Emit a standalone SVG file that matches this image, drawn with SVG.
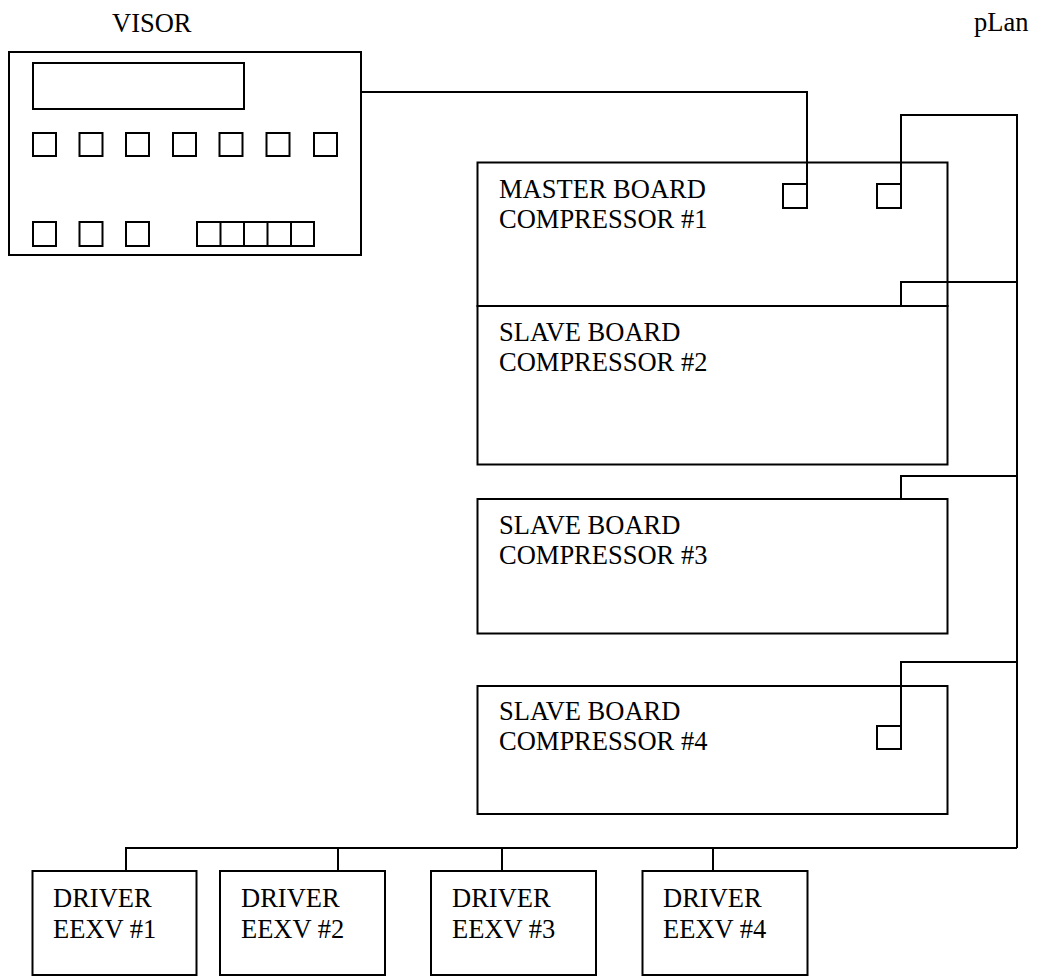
<svg xmlns="http://www.w3.org/2000/svg" width="1037" height="976" viewBox="0 0 1037 976">
<style>
.b{fill:#fff;stroke:#000;stroke-width:2}
.k{fill:none;stroke:#000;stroke-width:2}
.w{fill:none;stroke:#000;stroke-width:2}
text{font-family:"Liberation Serif","Times New Roman",serif;font-size:26.5px;fill:#000}
</style>
<rect width="1037" height="976" fill="#fff"/>
<g id="connectors">
<path class="w" d="M361,92 H807 V184"/>
<path class="w" d="M901,184 V115 H1017 V848"/>
<path class="w" d="M1017,282 H901 V306"/>
<path class="w" d="M1017,476 H901 V499"/>
<path class="w" d="M1017,662 H901 V726"/>
<path class="w" d="M1017,848 H126 V871"/>
<path class="w" d="M338,848 V871 M502,848 V871 M713,848 V871"/>
</g>
<g id="visor">
<text x="112" y="32">VISOR</text>
<rect class="k" x="9" y="52" width="352" height="203"/>
<rect class="k" x="33" y="63" width="211" height="46"/>
<rect class="k" x="33" y="133" width="23" height="23"/>
<rect class="k" x="79.5" y="133" width="23" height="23"/>
<rect class="k" x="126" y="133" width="23" height="23"/>
<rect class="k" x="173" y="133" width="23" height="23"/>
<rect class="k" x="219.5" y="133" width="23" height="23"/>
<rect class="k" x="266.5" y="133" width="23" height="23"/>
<rect class="k" x="314" y="133" width="23" height="23"/>
<rect class="k" x="33" y="222" width="23" height="24"/>
<rect class="k" x="79.5" y="222" width="23" height="24"/>
<rect class="k" x="126" y="222" width="23" height="24"/>
<rect class="k" x="197" y="222" width="117" height="24"/>
<path class="k" d="M220.5,222 V246 M244,222 V246 M267.5,222 V246 M291,222 V246"/>
</g>
<g id="plan-label">
<text x="974" y="31">pLan</text>
</g>
<g id="master1">
<rect class="k" x="477.5" y="162.5" width="470" height="143.5"/>
<rect class="k" x="783" y="184" width="24" height="24"/>
<rect class="k" x="877" y="184" width="24" height="24"/>
<text x="499" y="197.5">MASTER BOARD</text>
<text x="499" y="228">COMPRESSOR #1</text>
</g>
<g id="slave2">
<rect class="k" x="477.5" y="306" width="470" height="158.5"/>
<text x="499" y="340.5">SLAVE BOARD</text>
<text x="499" y="371">COMPRESSOR #2</text>
</g>
<g id="slave3">
<rect class="k" x="477.5" y="499" width="470" height="134.5"/>
<text x="499" y="533.5">SLAVE BOARD</text>
<text x="499" y="564">COMPRESSOR #3</text>
</g>
<g id="slave4">
<rect class="k" x="477.5" y="686" width="470" height="128"/>
<rect class="k" x="877" y="726" width="24" height="23"/>
<text x="499" y="719.5">SLAVE BOARD</text>
<text x="499" y="750">COMPRESSOR #4</text>
</g>
<g id="driver1">
<rect class="k" x="32.5" y="871" width="164" height="104"/>
<text x="53" y="907">DRIVER</text>
<text x="53" y="937.5">EEXV #1</text>
</g>
<g id="driver2">
<rect class="k" x="220" y="871" width="165" height="104"/>
<text x="241" y="907">DRIVER</text>
<text x="241" y="937.5">EEXV #2</text>
</g>
<g id="driver3">
<rect class="k" x="431" y="871" width="165" height="104"/>
<text x="452" y="907">DRIVER</text>
<text x="452" y="937.5">EEXV #3</text>
</g>
<g id="driver4">
<rect class="k" x="642.5" y="871" width="165" height="104"/>
<text x="663" y="907">DRIVER</text>
<text x="663" y="937.5">EEXV #4</text>
</g>
</svg>
